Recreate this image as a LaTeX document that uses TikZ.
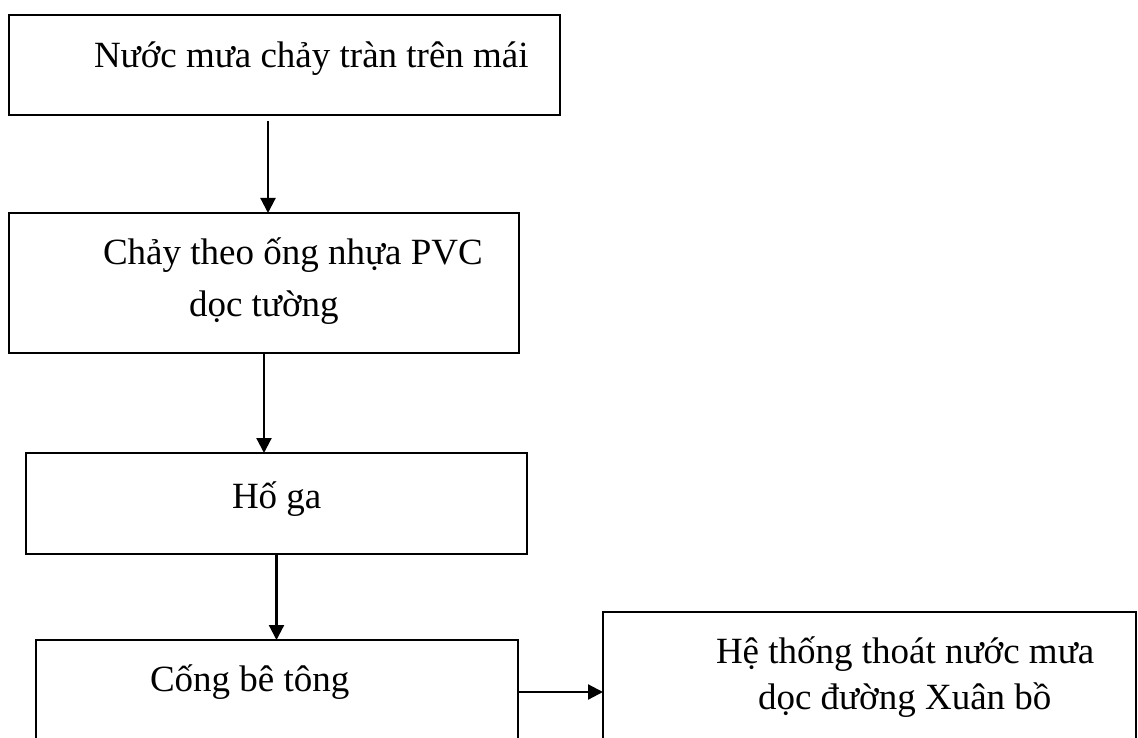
\documentclass[tikz,border=0pt]{standalone}
\usepackage{fontspec}
\setmainfont{Liberation Serif}
\usetikzlibrary{arrows.meta}
\tikzset{
  box/.style={draw=black, line width=1.3pt, inner sep=0pt, outer sep=0pt, rectangle},
  lbl/.style={anchor=base west, inner sep=0pt, outer sep=0pt, font=\fontsize{37}{46}\selectfont},
  arr/.style={line width=2.2pt, -{Triangle[length=15pt,width=15pt]}}
}
\begin{document}
\begin{tikzpicture}[x=1pt,y=-1pt]
\useasboundingbox (0,0) rectangle (1138,738);
\clip (0,0) rectangle (1138,738);
% boxes
\node[box, minimum width=551pt, minimum height=100pt] (b1) at (284.5,65) {};
\node[box, minimum width=510pt, minimum height=140pt] (b2) at (264,283) {};
\node[box, minimum width=501pt, minimum height=101pt] (b3) at (276.5,503.5) {};
\node[box, minimum width=482pt, minimum height=160pt] (b4) at (277,720) {};
\node[box, minimum width=533pt, minimum height=188pt] (b5) at (869.5,706) {};
% texts
\node[lbl] (t1) at (94,68) {Nước mưa chảy tràn trên mái};
\node[lbl] (t2a) at (103,265) {Chảy theo ống nhựa PVC};
\node[lbl] (t2b) at (189,316) {dọc tường};
\node[lbl] (t3) at (232,508) {Hố ga};
\node[lbl] (t4) at (150,691) {Cống bê tông};
\node[lbl] (t5a) at (716,663) {Hệ thống thoát nước mưa};
\node[lbl] (t5b) at (758,709) {dọc đường Xuân bồ};
% connectors
\coordinate (c1) at (268,121);
\draw[arr] (c1) -- (c1 |- b2.north);
\draw[arr] (b2.south) -- (b2.south |- b3.north);
\draw[arr] (b3.south) -- (b3.south |- b4.north);
\coordinate (c4) at (518,692);
\draw[arr] (c4) -- (c4 -| b5.west);
\end{tikzpicture}
\end{document}
